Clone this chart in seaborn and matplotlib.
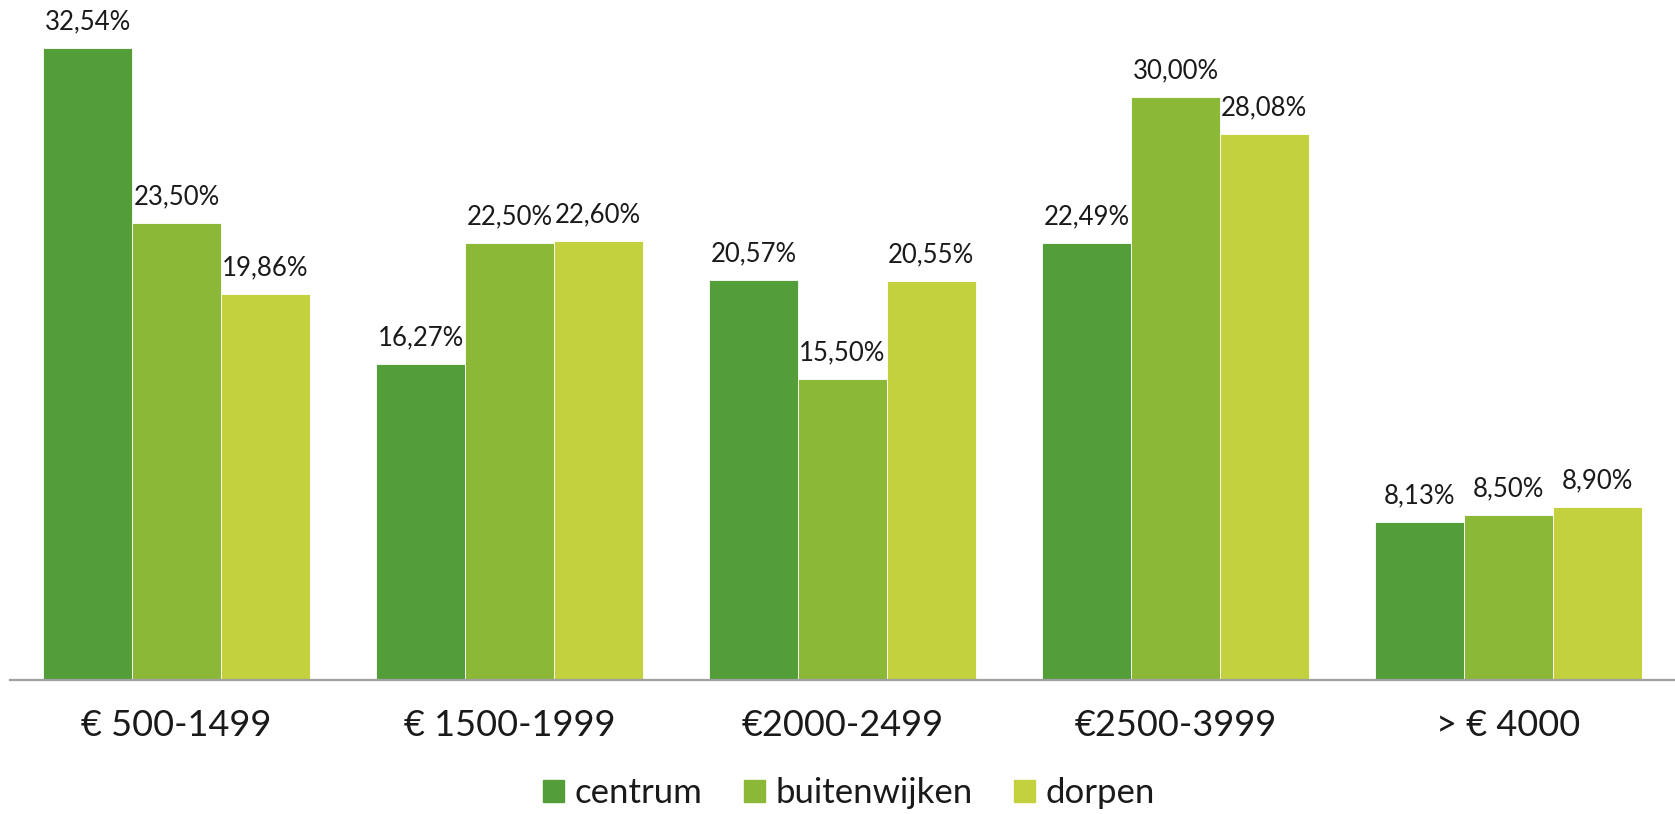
import pandas as pd
import matplotlib
matplotlib.use('Agg')
import matplotlib.pyplot as plt
import seaborn as sns

categories = ['€ 500-1499', '€ 1500-1999', '€2000-2499', '€2500-3999', '> € 4000']
centrum = [32.54, 16.27, 20.57, 22.49, 8.13]
buitenwijken = [23.50, 22.50, 15.50, 30.00, 8.50]
dorpen = [19.86, 22.60, 20.55, 28.08, 8.90]
series = ['centrum', 'buitenwijken', 'dorpen']
colors = ['#549E3A', '#8BB836', '#C2D13D']

df = pd.DataFrame({'cat': categories * 3,
                   'value': centrum + buitenwijken + dorpen,
                   'serie': [s for s in series for _ in categories]})

sns.set_style('white')
plt.rcParams['font.family'] = ['Lato', 'DejaVu Sans']

fig = plt.figure(figsize=(16.75, 8.14), dpi=100)
ax = fig.add_axes([10 / 1675, 134 / 814, 1 - 10 / 1675, 680 / 814])
sns.barplot(data=df, x='cat', y='value', hue='serie', palette=colors,
            order=categories, hue_order=series, ax=ax, width=0.8, saturation=1,
            edgecolor='white', linewidth=0.6, legend=False)

for cont in ax.containers:
    ax.bar_label(cont, labels=[f'{v:.2f}%'.replace('.', ',') for v in cont.datavalues],
                 padding=10, fontsize=18.5, color='#1a1a1a')

ax.set_ylim(0, 35)
ax.set_xlim(-0.5, 4.5)
ax.set_xlabel('')
ax.set_ylabel('')
ax.set_yticks([])
ax.tick_params(axis='x', length=0, labelsize=26, labelcolor='#1a1a1a', pad=21)
for s in ['top', 'right', 'left']:
    ax.spines[s].set_visible(False)
ax.spines['bottom'].set_color('#A0A0A0')
ax.spines['bottom'].set_linewidth(1.6)

handles = [plt.Rectangle((0, 0), 1, 1, color=c) for c in colors]
fig.legend(handles, series, loc='center', bbox_to_anchor=(0.507, 1 - 793 / 814),
           ncol=3, frameon=False, fontsize=25, handlelength=0.6, handleheight=0.6,
           handletextpad=0.3, columnspacing=1.2, labelcolor='#1a1a1a')

fig.savefig('out.png', dpi=100)
